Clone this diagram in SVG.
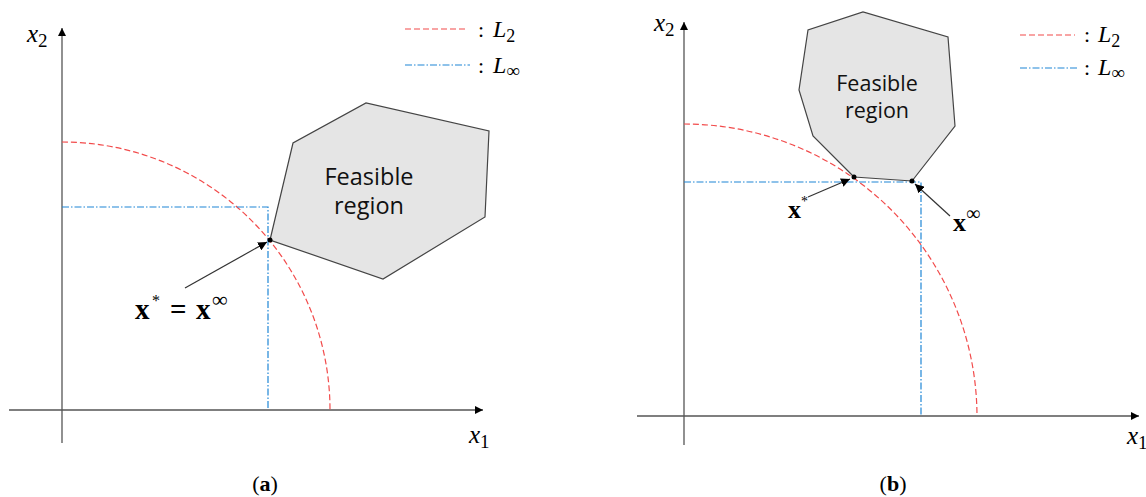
<svg xmlns="http://www.w3.org/2000/svg" width="1146" height="497" viewBox="0 0 1146 497">
<defs>
<marker id="axh" viewBox="0 0 10 10" refX="10" refY="5" markerWidth="8" markerHeight="8" markerUnits="userSpaceOnUse" orient="auto"><path d="M0,0 L10,5 L0,10 Z" fill="#000"/></marker>
<marker id="ptr" viewBox="0 0 10 10" refX="10" refY="5" markerWidth="9" markerHeight="9" markerUnits="userSpaceOnUse" orient="auto"><path d="M0,0 L10,5 L0,10 Z" fill="#000"/></marker>
</defs>
<style>
.axis{stroke:#555;stroke-width:1.3;fill:none}
.l2{stroke:#f24b4b;stroke-width:1.2;fill:none;stroke-dasharray:6 3}
.linf{stroke:#1f86d6;stroke-width:1.2;fill:none;stroke-dasharray:7 2 1.5 2}
.poly{fill:#e5e5e5;stroke:#444;stroke-width:1.2}
.ptr{stroke:#333;stroke-width:1.2;fill:none}
.mi{font-family:"Liberation Serif",serif;font-style:italic;fill:#000}
.lbl{font-family:"Liberation Serif",serif;font-weight:bold;fill:#000}
.txt{font-family:"Open Sans","Noto Sans",sans-serif;fill:#111;text-anchor:middle}
.cap{font-family:"Liberation Serif",serif;font-size:22px;fill:#000;text-anchor:middle}
</style>
<rect width="1146" height="497" fill="#fff"/>

<!-- Panel (a) -->
<g id="a-axes">
<line class="axis" x1="9" y1="410" x2="483" y2="410" marker-end="url(#axh)"/>
<line class="axis" x1="62" y1="443" x2="62" y2="28" marker-end="url(#axh)"/>
<text class="mi" x="27" y="42" font-size="25">x<tspan font-style="normal" font-size="19" dy="5">2</tspan></text>
<text class="mi" x="469" y="443" font-size="25">x<tspan font-style="normal" font-size="19" dy="5">1</tspan></text>
</g>
<g id="a-legend">
<line class="l2" x1="405" y1="29" x2="468" y2="29"/>
<text x="478" y="37" font-family="Liberation Serif,serif" font-size="22">:</text>
<text class="mi" x="493" y="37" font-size="24">L<tspan font-style="normal" font-size="18" dy="5">2</tspan></text>
<line class="linf" x1="405" y1="65" x2="470" y2="65"/>
<text x="478" y="73" font-family="Liberation Serif,serif" font-size="22">:</text>
<text class="mi" x="493" y="73" font-size="24">L<tspan font-style="normal" font-size="19" dy="4">∞</tspan></text>
</g>
<g id="a-curves">
<path class="l2" d="M62,142 A268,268 0 0 1 330,410"/>
<path class="linf" d="M62,207 H268 V410"/>
</g>
<g id="a-feasible">
<polygon class="poly" points="270,240 293,143 366,103 489,131 485,217 383,279"/>
<text class="txt" font-size="23.5" x="369" y="185">Feasible<tspan x="369" dy="29">region</tspan></text>
</g>
<g id="a-point">
<circle cx="270" cy="240" r="2.5" fill="#000"/>
</g>
<g id="a-connectors">
<line class="ptr" x1="185" y1="288" x2="267" y2="242" marker-end="url(#ptr)"/>
</g>
<g id="a-label">
<text class="lbl" x="135" y="319" font-size="29">x<tspan x="152" font-weight="normal" font-size="16" dy="-13">*</tspan><tspan x="170" dy="13">=</tspan><tspan x="196">x</tspan><tspan x="212" font-weight="normal" font-size="22" dy="-12">∞</tspan></text>
</g>
<text class="cap" x="265" y="491">(<tspan font-weight="bold">a</tspan>)</text>

<!-- Panel (b) -->
<g id="b-axes">
<line class="axis" x1="637" y1="416" x2="1139" y2="416" marker-end="url(#axh)"/>
<line class="axis" x1="684" y1="445" x2="684" y2="22" marker-end="url(#axh)"/>
<text class="mi" x="654" y="31" font-size="25">x<tspan font-style="normal" font-size="19" dy="5">2</tspan></text>
<text class="mi" x="1127" y="444" font-size="25">x<tspan font-style="normal" font-size="19" dy="5">1</tspan></text>
</g>
<g id="b-legend">
<line class="l2" x1="1020" y1="35" x2="1075" y2="35"/>
<text x="1084" y="42" font-family="Liberation Serif,serif" font-size="22">:</text>
<text class="mi" x="1098" y="42" font-size="24">L<tspan font-style="normal" font-size="18" dy="5">2</tspan></text>
<line class="linf" x1="1020" y1="68" x2="1077" y2="68"/>
<text x="1084" y="75" font-family="Liberation Serif,serif" font-size="22">:</text>
<text class="mi" x="1098" y="75" font-size="24">L<tspan font-style="normal" font-size="19" dy="4">∞</tspan></text>
</g>
<g id="b-curves">
<path class="l2" d="M684,124 A293,293 0 0 1 977,416"/>
<path class="linf" d="M684,182 H921 V416"/>
</g>
<g id="b-feasible">
<polygon class="poly" points="854,177 813,136 799,90 808,30 863,12 948,37 955,126 912,181"/>
<text class="txt" font-size="21.5" x="877" y="91">Feasible<tspan x="877" dy="27">region</tspan></text>
</g>
<g id="b-points">
<circle cx="854" cy="177" r="2.5" fill="#000"/>
<circle cx="912" cy="181" r="2.5" fill="#000"/>
</g>
<g id="b-connectors">
<line class="ptr" x1="808" y1="197" x2="850" y2="179" marker-end="url(#ptr)"/>
<line class="ptr" x1="950" y1="216" x2="915" y2="184" marker-end="url(#ptr)"/>
</g>
<g id="b-labels">
<text class="lbl" x="788" y="218" font-size="26">x<tspan font-weight="normal" font-size="14" dy="-12">*</tspan></text>
<text class="lbl" x="953" y="231" font-size="26">x<tspan font-weight="normal" font-size="20" dy="-11">∞</tspan></text>
</g>
<text class="cap" x="893" y="491">(<tspan font-weight="bold">b</tspan>)</text>
</svg>
